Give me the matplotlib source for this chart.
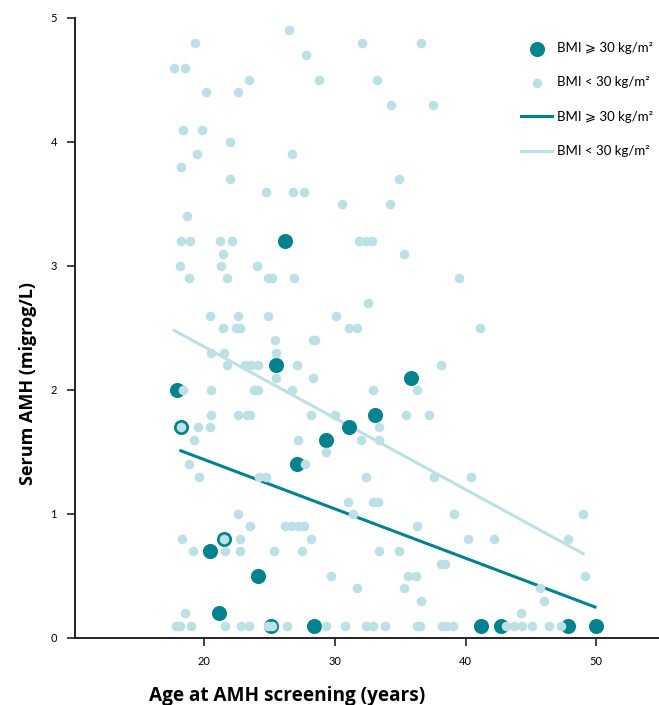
import matplotlib.pyplot as plt

# BMI >= 30 kg/m2 (dark points)
high_age = [17.9, 18.2, 20.4, 21.1, 21.5, 24.1, 25.1, 25.5, 26.2, 27.1,
            28.4, 29.3, 31.1, 33.1, 35.8, 41.2, 42.7, 47.8, 50.0]
high_amh = [2.0, 1.7, 0.7, 0.2, 0.8, 0.5, 0.1, 2.2, 3.2, 1.4,
            0.1, 1.6, 1.7, 1.8, 2.1, 0.1, 0.1, 0.1, 0.1]

# BMI < 30 kg/m2 (light points), grouped by AMH level
low_rows = {
    4.9: [26.5],
    4.8: [19.25, 32.1, 36.6],
    4.7: [27.8],
    4.6: [17.7, 18.5],
    4.5: [23.4, 28.8, 33.2],
    4.4: [20.1, 22.6],
    4.3: [34.3, 37.5],
    4.1: [18.4, 19.8],
    4.0: [22.0],
    3.9: [19.4, 26.7],
    3.8: [18.2],
    3.7: [22.0, 34.9],
    3.6: [24.7, 26.8, 27.6],
    3.5: [30.5, 34.2],
    3.4: [18.7],
    3.2: [18.2, 18.9, 21.2, 22.1, 31.8, 32.4, 32.8],
    3.1: [21.4, 35.3],
    3.0: [18.1, 21.3, 24.0],
    2.9: [18.8, 21.7, 24.9, 25.2, 26.9, 39.5],
    2.7: [32.5],
    2.6: [20.4, 22.6, 24.9, 30.1],
    2.5: [21.4, 22.4, 22.7, 31.1, 31.7, 41.1],
    2.4: [25.4, 28.3, 28.5],
    2.3: [20.5, 21.5, 25.5],
    2.2: [21.7, 23.1, 23.6, 24.1, 27.1, 38.1],
    2.1: [25.5, 28.3],
    2.0: [18.4, 20.5, 23.8, 24.1, 26.7, 32.9, 36.3],
    1.8: [20.5, 22.6, 23.3, 23.5, 28.2, 30.0, 35.4, 37.2],
    1.7: [18.2, 19.5, 20.4, 33.4],
    1.6: [19.2, 27.2, 32.0, 33.4],
    1.5: [29.3],
    1.4: [18.8, 27.7],
    1.3: [19.6, 24.2, 24.7, 32.4, 37.6, 40.4],
    1.1: [31.0, 32.9, 33.3],
    1.0: [22.6, 31.4, 39.1, 49.0],
    0.9: [23.5, 26.2, 26.6, 27.2, 27.6, 36.3],
    0.8: [18.3, 21.5, 22.7, 28.2, 40.2, 42.2, 47.8],
    0.7: [19.1, 21.6, 22.7, 25.3, 27.5, 33.4, 34.9],
    0.6: [38.1, 38.4],
    0.5: [29.7, 35.6, 36.2, 49.1],
    0.4: [31.7, 35.3, 45.7],
    0.3: [36.6, 46.0],
    0.2: [18.5, 44.2],
    0.1: [17.8, 18.1, 19.0, 21.6, 22.8, 23.4, 24.9, 25.2, 26.3, 29.3,
          30.8, 32.4, 32.9, 33.8, 36.3, 36.5, 38.2, 38.5, 39.0, 43.1,
          43.7, 44.3, 45.1, 46.4, 47.3],
}
low_age = [a for lvl, ages in low_rows.items() for a in ages]
low_amh = [lvl for lvl, ages in low_rows.items() for a in ages]

# fitted trend lines (end points)
high_fit_age = [18.2, 49.9]
high_fit_amh = [1.51, 0.25]
low_fit_age = [17.7, 49.0]
low_fit_amh = [2.48, 0.68]

dark = '#00838f'
light = '#bde0e4'
label_hi = 'BMI \u2a7e 30 kg/m\u00b2'
label_lo = 'BMI < 30 kg/m\u00b2'

plt.rcParams['font.family'] = ['Lato', 'DejaVu Sans']

fig = plt.figure(figsize=(6.59, 7.05), dpi=100)
ax = fig.add_axes([75 / 659, 67 / 705, 584 / 659, 620 / 705])

ax.scatter(high_age, high_amh, s=118, color=dark, linewidths=0, zorder=3, label=label_hi)
ax.scatter(low_age, low_amh, s=48, color=light, linewidths=0, zorder=4, label=label_lo)
ax.plot(high_fit_age, high_fit_amh, color=dark, lw=2.2, zorder=2, label=label_hi)
ax.plot(low_fit_age, low_fit_amh, color=light, lw=2.2, zorder=2, label=label_lo)

ax.set_xlim(10.1, 54.8)
ax.set_ylim(0, 5)
ax.set_xticks([20, 30, 40, 50])
ax.set_yticks([0, 1, 2, 3, 4, 5])
for s in ['top', 'right']:
    ax.spines[s].set_visible(False)
for s in ['left', 'bottom']:
    ax.spines[s].set_linewidth(1.4)
    ax.spines[s].set_color('#222222')
ax.tick_params(axis='both', length=6, width=1.2, color='#222222', labelsize=8)
ax.tick_params(axis='y', pad=7)
ax.tick_params(axis='x', pad=7)

lab_font = dict(fontweight='bold', family=['Open Sans', 'DejaVu Sans'])
ax.set_xlabel('Age at AMH screening (years)', fontsize=13.7, **lab_font)
ax.xaxis.set_label_coords(0.363, -0.077)
ax.set_ylabel('Serum AMH (migrog/L)', fontsize=13, **lab_font)
ax.yaxis.set_label_coords(-0.065, 0.41)

ax.legend(loc='upper left', bbox_to_anchor=(521 / 659, 1 - 42 / 705),
          bbox_transform=fig.transFigure, frameon=False, fontsize=9.5,
          scatterpoints=1, handlelength=2.35, handletextpad=0.4,
          labelspacing=1.7, borderpad=0, borderaxespad=0)

fig.savefig('out.png', dpi=100)
